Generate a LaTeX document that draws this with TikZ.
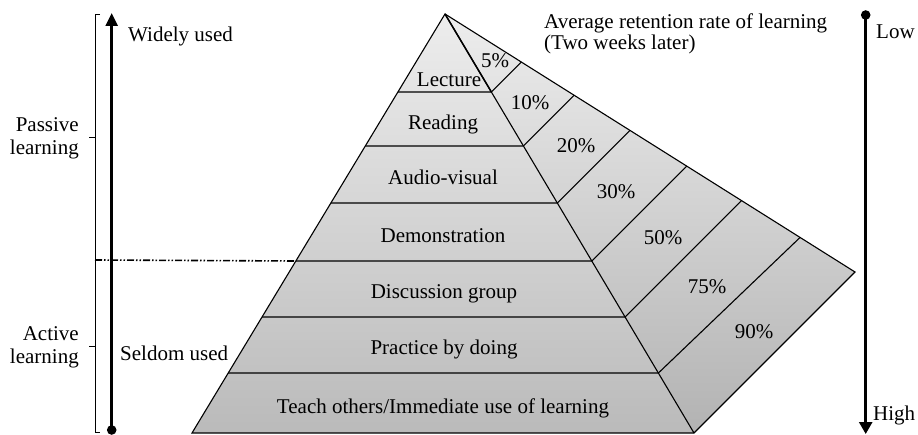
\documentclass[tikz,border=0pt]{standalone}
\usepackage{fontspec}
\setmainfont{Liberation Serif}
\usetikzlibrary{arrows.meta}
\begin{document}
\begin{tikzpicture}[x=1pt,y=-1pt,
  edge/.style={line width=1.1pt, line join=miter},
  lbl/.style={inner sep=0pt, anchor=base, font=\fontsize{21}{23}\selectfont},
  lblw/.style={lbl, anchor=base west},
  lble/.style={lbl, anchor=base east},
  axis/.style={line width=2.6pt},
  brk/.style={line width=0.9pt}]
\useasboundingbox (0,0) rectangle (918,435);
% key points
\coordinate (A) at (445,14);
\coordinate (BL) at (192,433);
\coordinate (BR) at (694,433);
\coordinate (P) at (855,272);
% left / right edge points
\coordinate (L1) at (397.9,92);  \coordinate (R1) at (491.4,92);
\coordinate (L2) at (365.3,146); \coordinate (R2) at (523.4,146);
\coordinate (L3) at (330.9,203); \coordinate (R3) at (557.3,203);
\coordinate (L4) at (295.9,261); \coordinate (R4) at (591.8,261);
\coordinate (L5) at (262.0,317); \coordinate (R5) at (625.1,317);
\coordinate (L6) at (228.2,373); \coordinate (R6) at (658.4,373);
% upper edge points of the right face
\coordinate (U1) at (521.3,62.1);
\coordinate (U2) at (574.1,95.3);
\coordinate (U3) at (629.9,130.4);
\coordinate (U4) at (686.7,166.1);
\coordinate (U5) at (741.5,200.6);
\coordinate (U6) at (800.0,237.5);
% fills
\shade[top color=black!7, bottom color=black!27] (A) -- (BR) -- (BL) -- cycle;
\shade[top color=black!7, bottom color=black!30] (A) -- (P) -- (BR) -- cycle;
% outlines
\draw[edge] (A) -- (BL) -- (BR) -- (P) -- cycle;
\draw[edge] (A) -- (BR);
\draw[edge, line width=1.5pt] (A) -- (R1);
\foreach \i in {1,...,6} {
  \draw[edge] (L\i) -- (R\i) -- (U\i);
}
% pyramid labels
\node[lbl] (lec) at (449,87) {Lecture};
\node[lbl] (rea) at (443,130) {Reading};
\node[lbl] (aud) at (443,185) {Audio-visual};
\node[lbl] (dem) at (443,243) {Demonstration};
\node[lbl] (dis) at (444,299) {Discussion group};
\node[lbl] (pra) at (444,355) {Practice by doing};
\node[lbl] (tea) at (443,413) {Teach others/Immediate use of learning};
% percentages
\node[lbl] (p5) at (495,68) {5\%};
\node[lbl] (p10) at (530,110) {10\%};
\node[lbl] (p20) at (576,153) {20\%};
\node[lbl] (p30) at (616,199) {30\%};
\node[lbl] (p50) at (663,245) {50\%};
\node[lbl] (p75) at (707,294) {75\%};
\node[lbl] (p90) at (754,339) {90\%};
% title
\node[lblw] (t1) at (544,29) {Average retention rate of learning};
\node[lblw] (t2) at (544,50) {(Two weeks later)};
% left axis
\coordinate (la0) at (111.7,430);
\coordinate (la1) at (111.7,13);
\draw[axis, -{Triangle[width=12pt,length=13pt]}] (la0) -- (la1);
\fill (la0) circle (4.8pt);
\node[lblw] (wide) at (128,42) {Widely used};
\node[lblw] (seld) at (120,361) {Seldom used};
% brackets
\draw[brk] (100,14) -- (95,14) -- (95,432) -- (100,432);
\draw[brk] (95,260) -- (100,260);
\draw[brk] (95,137) -- (89,137);
\draw[brk] (95,346) -- (89,346);
\coordinate (dd0) at (95,260);
\draw[line width=1.6pt, dash pattern=on 7pt off 2pt on 1.5pt off 2pt on 1.5pt off 2pt] (dd0) -- (L4);
\node[lble, align=right] (pas) at (79,154.5) {Passive\\learning};
\node[lble, align=right] (act) at (79,363.6) {Active\\learning};
% right axis
\coordinate (ra0) at (865.7,15);
\coordinate (ra1) at (865.7,434);
\draw[axis, -{Triangle[width=13pt,length=12pt]}] (ra0) -- (ra1);
\fill (ra0) circle (4.8pt);
\node[lblw] (low) at (876,38.5) {Low};
\node[lblw] (high) at (873,420) {High};
\end{tikzpicture}
\end{document}
